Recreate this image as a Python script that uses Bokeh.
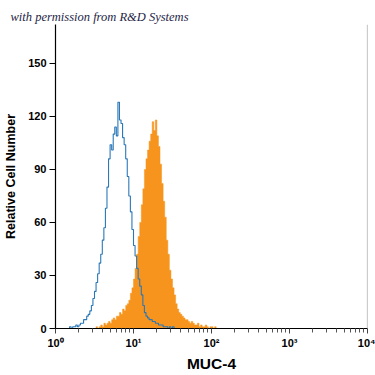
import numpy as np
from bokeh.plotting import figure
from bokeh.models import Span, FixedTicker, Title
from bokeh.embed import file_html
from bokeh.resources import INLINE

# Histogram channels: width in decades of fluorescence
BIN_WIDTH = 0.02

# Isotype control (blue outline) - first channel starts at 10^0.16
control_start = 0.16
control_counts = [0, 1, 0, 1, 1, 2, 1, 2, 3, 3,
                  5, 5, 7, 8, 10, 13, 17, 21, 26, 31,
                  37, 42, 50, 57, 68, 80, 96, 104, 101, 110,
                  114, 109, 128, 118, 116, 108, 104, 96, 86, 75,
                  66, 56, 47, 41, 34, 28, 24, 19, 13, 9,
                  7, 6, 5, 5, 4, 4, 3, 3, 2, 2,
                  2, 1, 1, 1, 0, 1, 0, 1, 0]

# MUC-4 stained cells (orange filled) - first channel starts at 10^0.52
muc4_start = 0.52
muc4_counts = [1, 0, 1, 2, 1, 3, 2, 3, 4, 3,
               5, 6, 5, 7, 7, 9, 8, 11, 10, 13,
               14, 16, 20, 23, 28, 34, 42, 52, 60, 70,
               79, 90, 96, 101, 106, 110, 117, 112, 118, 109,
               103, 93, 82, 72, 63, 50, 42, 33, 28, 23,
               19, 14, 11, 9, 8, 7, 6, 5, 5, 4,
               3, 4, 3, 2, 2, 3, 1, 2, 1, 1,
               2, 1, 0, 1, 1, 0, 1]

y_ticks = [0, 30, 60, 90, 120, 150]
x_ticks = [1, 10, 100, 1000, 10000]
x_tick_labels = ["10\u2070", "10\u00b9", "10\u00b2", "10\u00b3", "10\u2074"]

ORANGE = "#f7941d"
BLUE = "#2a78b8"
FONT = "Liberation Sans"


def step_xy(start, counts):
    edges = 10 ** (start + BIN_WIDTH * np.arange(len(counts) + 1))
    xs, ys = [edges[0]], [0]
    for i, c in enumerate(counts):
        xs += [edges[i], edges[i + 1]]
        ys += [c, c]
    xs.append(edges[-1])
    ys.append(0)
    return xs, ys


p = figure(width=375, height=375, x_axis_type="log",
           x_range=(1, 10000), y_range=(0, 172),
           output_backend="svg", toolbar_location=None,
           min_border_left=55, min_border_right=8,
           min_border_top=24, min_border_bottom=47)
p.grid.visible = False
p.outline_line_color = None
p.background_fill_color = "white"
p.border_fill_color = "white"

p.add_layout(Title(text="with permission from R&D Systems", align="left",
                   offset=-45, standoff=2,
                   text_font="Liberation Serif", text_font_style="italic",
                   text_font_size="12.5px", text_color="#1e1e46"), "above")

mx, my = step_xy(muc4_start, muc4_counts)
p.patch(mx, my, fill_color=ORANGE, line_color=ORANGE, line_width=0.5)

cx, cy = step_xy(control_start, control_counts)
p.line(cx, cy, line_color=BLUE, line_width=1.1)

p.add_layout(Span(location=10000, dimension="height",
                  line_color="#9a9a9a", line_width=1.2))

# y axis
ya = p.yaxis[0]
ya.ticker = FixedTicker(ticks=y_ticks)
ya.axis_line_color = "black"
ya.axis_line_width = 1.2
ya.major_tick_in = 0
ya.major_tick_out = 6
ya.minor_tick_in = 0
ya.minor_tick_out = 0
ya.major_label_standoff = 3
ya.major_label_text_font = FONT
ya.major_label_text_font_style = "bold"
ya.major_label_text_font_size = "11px"
ya.major_label_text_color = "black"
ya.axis_label = "Relative Cell Number"
ya.axis_label_text_font = FONT
ya.axis_label_text_font_style = "bold"
ya.axis_label_text_font_size = "12.5px"
ya.axis_label_text_color = "black"
ya.axis_label_standoff = 7

# x axis
minor = [m * 10 ** k for k in range(4) for m in range(2, 10)]
xa = p.xaxis[0]
xa.ticker = FixedTicker(ticks=x_ticks, minor_ticks=minor)
xa.major_label_overrides = dict(zip(x_ticks, x_tick_labels))
xa.axis_line_color = "black"
xa.axis_line_width = 1.2
xa.major_tick_in = 0
xa.major_tick_out = 5
xa.minor_tick_in = 0
xa.minor_tick_out = 4
xa.major_tick_line_color = "#444444"
xa.minor_tick_line_color = "#555555"
xa.major_label_standoff = 3
xa.major_label_text_font = FONT
xa.major_label_text_font_style = "bold"
xa.major_label_text_font_size = "11px"
xa.major_label_text_color = "black"
xa.axis_label = "MUC-4"
xa.axis_label_text_font = FONT
xa.axis_label_text_font_style = "bold"
xa.axis_label_text_font_size = "15.5px"
xa.axis_label_text_color = "black"
xa.axis_label_standoff = 3

open("out.html", "w").write(file_html(p, INLINE))
